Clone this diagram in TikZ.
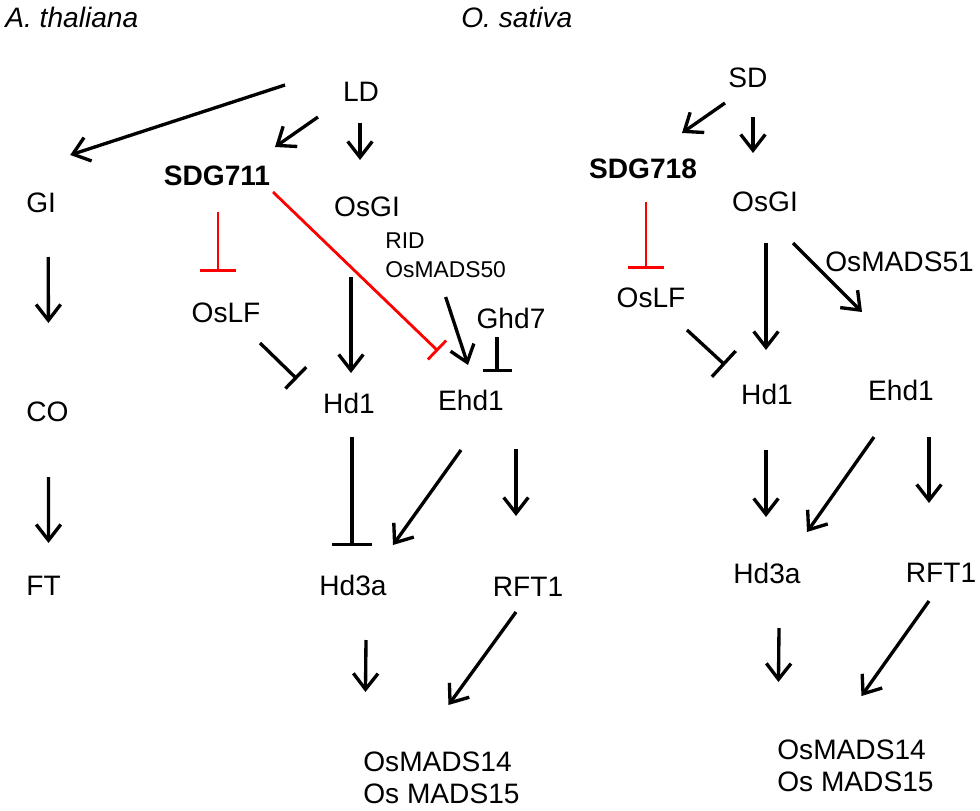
\documentclass[tikz,border=0pt]{standalone}
\usepackage{fontspec}
\setmainfont{Liberation Sans}
\usetikzlibrary{calc, %for offsets from nodes
                arrows.meta} %for barbs and bars

\begin{document}
\begin{tikzpicture}[x=0.02cm, y=-0.02cm,
                    every node/.style={inner sep=0pt, font=\fontsize{16}{19}\selectfont},
                    title/.style={anchor=west, font=\fontsize{16}{19}\selectfont\itshape},
                    keygene/.style={font=\fontsize{16}{19}\selectfont\bfseries},
                    twoline/.style={anchor=west, align=left, font=\fontsize{16}{18.5}\selectfont},
                    smalltwo/.style={anchor=west, align=left, font=\fontsize{13}{16.4}\selectfont},
                    act/.style={-{Straight Barb[length=9pt,width=14pt]}, line width=1.9pt},
                    inh/.style={-{Bar[width=#1]}, line width=1.9pt},
                    inh/.default=18pt,
                    rinh/.style={-{Bar[width=#1]}, line width=1.6pt, red},
                    rinh/.default=20pt
                    ]

    \useasboundingbox (0,0) rectangle (980,811);

    % TITLES %
    \node[title] (thal) at (5,17) {A. thaliana};
    \node[title] (sat) at (461,17) {O. sativa};

    % A. THALIANA %
    \node[anchor=west] (GI) at (26,203) {GI};
    \node[anchor=west] (CO) at (26,412) {CO};
    \node[anchor=west] (FT) at (26,586) {FT};

    % O. SATIVA, LONG DAY %
    \node (LD) at (361,92) {LD};
    \node[keygene] (SDG711) at (217,176) {SDG711};
    \node (OsGIld) at (367,207) {OsGI};
    \node (OsLFld) at (226,313) {OsLF};
    \node[smalltwo] (rid) at (385,255) {RID\\OsMADS50};
    \node (Ghd7) at (511,318) {Ghd7};
    \node (Hd1ld) at (349,403) {Hd1};
    \node (Ehd1ld) at (471,400) {Ehd1};
    \node (Hd3ald) at (353,585) {Hd3a};
    \node (RFT1ld) at (528,587) {RFT1};
    \node[twoline] (madsld) at (363,778) {OsMADS14\\Os MADS15};

    % O. SATIVA, SHORT DAY %
    \node (SD) at (748,78) {SD};
    \node[keygene] (SDG718) at (643,169) {SDG718};
    \node (OsGIsd) at (765,202) {OsGI};
    \node (OsLFsd) at (651,298) {OsLF};
    \node[anchor=west] (mads51) at (825,262) {OsMADS51};
    \node (Hd1sd) at (767,394) {Hd1};
    \node (Ehd1sd) at (901,390) {Ehd1};
    \node (Hd3asd) at (767,573) {Hd3a};
    \node (RFT1sd) at (941,573) {RFT1};
    \node[twoline] (madssd) at (777,766) {OsMADS14\\Os MADS15};

    % ACTIVATIONS %
    \foreach \a/\ax/\ay/\b/\bx/\by in {LD/-76/-7/GI/29/-48, LD/-43/25/SDG711/58/-29,
        LD/-1/31/OsGIld/-7/-47, GI/7/54/CO/1/-89, CO/1/65/FT/5/-43,
        OsGIld/-16/70/Hd1ld/2/-30, rid/0/42/Ehd1ld/-3/-35,
        Ehd1ld/-10/50/Hd3ald/40/-40, Ehd1ld/45/49/RFT1ld/-12/-71,
        Hd3ald/13/55/madsld/-76/-86, RFT1ld/-12/25/madsld/7/-73,
        SD/-23/25/SDG718/39/-36, SD/5/39/OsGIsd/-12/-49,
        OsGIsd/1/41/Hd1sd/-1/-44, OsGIsd/28/41/Ehd1sd/-39/-78,
        Hd1sd/-1/56/Hd3asd/-1/-56, Ehd1sd/-27/47/Hd3asd/40/-41,
        Ehd1sd/28/47/RFT1sd/-12/-70, Hd3asd/12/55/madssd/-77/-84,
        RFT1sd/-12/28/madssd/6/-70}
    \draw[act] ($(\a)+(\ax,\ay)$) -- ($(\b)+(\bx,\by)$);

    % REPRESSIONS %
    \foreach \a/\ax/\ay/\b/\bx/\by/\w in {OsLFld/34/30/Hd1ld/-52/-24/17pt,
        Ghd7/-14/19/Ehd1ld/26/-28/16.5pt, Hd1ld/3/34/Hd3ald/-1/-39/23pt,
        OsLFsd/36/32/Hd1sd/-42/-29/20pt}
    \draw[inh=\w] ($(\a)+(\ax,\ay)$) -- ($(\b)+(\bx,\by)$);

    \foreach \a/\ax/\ay/\b/\bx/\by/\w in {SDG711/1/36/OsLFld/-8/-41/20pt,
        SDG711/56/16/Ehd1ld/-33/-49/15pt, SDG718/3/33/OsLFsd/-5/-29/20pt}
    \draw[rinh=\w] ($(\a)+(\ax,\ay)$) -- ($(\b)+(\bx,\by)$);

\end{tikzpicture}
\end{document}
